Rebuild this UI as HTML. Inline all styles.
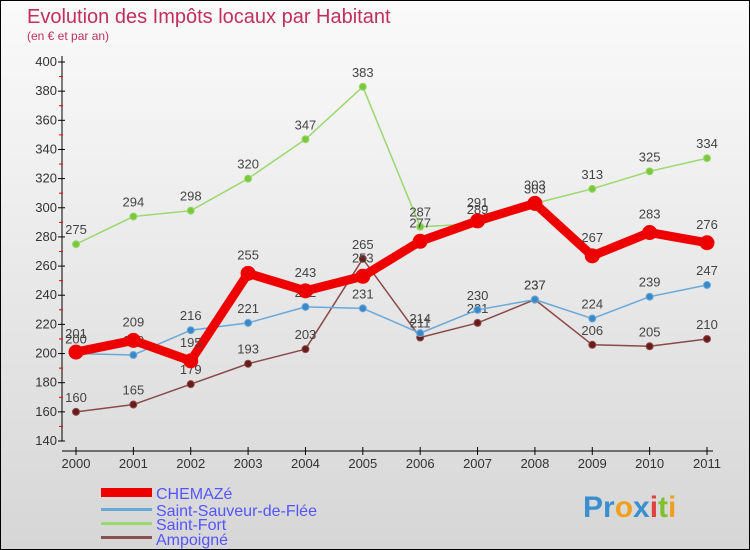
<!DOCTYPE html>
<html><head><meta charset="utf-8"><style>
body{margin:0}
#c{width:748px;height:548px;border:1px solid #000;background:linear-gradient(#fafafa,#f0f0f0 30%,#d6d6d6);position:relative;overflow:hidden;font-family:"Liberation Sans",sans-serif}
</style></head><body>
<div id="c">
<svg width="748" height="548">
<text x="26" y="22" font-size="20" fill="#c0305a">Evolution des Impôts locaux par Habitant</text>
<text x="26" y="39" font-size="12" fill="#c0305a">(en € et par an)</text>
<g id="axes"></g><g id="series"></g>
<g>
<rect x="100" y="487" width="51" height="9" fill="#e00"/>
<text x="155" y="498" font-size="16" fill="#55f">CHEMAZé</text>
<rect x="100" y="507" width="51" height="3" fill="#6aa8d8"/>
<text x="155" y="515" font-size="16" fill="#55f">Saint-Sauveur-de-Flée</text>
<rect x="100" y="521" width="51" height="3" fill="#9ad870"/>
<text x="155" y="529" font-size="16" fill="#55f">Saint-Fort</text>
<rect x="100" y="535" width="51" height="3" fill="#8a5050"/>
<text x="155" y="544" font-size="16" fill="#55f">Ampoigné</text>
</g>
<text x="582" y="516" font-size="30" font-weight="bold"><tspan fill="#3a8fd0">Pr</tspan><tspan fill="#f0a020">o</tspan><tspan fill="#3a8fd0">x</tspan><tspan fill="#e04040">i</tspan><tspan fill="#80c030">t</tspan><tspan fill="#f0a020">i</tspan></text>
</svg></div>
<script>
const years=["2000","2001","2002","2003","2004","2005","2006","2007","2008","2009","2010","2011"];
const chemaze=[201,209,195,255,243,253,277,291,303,267,283,276];
const sauveur=[200,199,216,221,232,231,214,230,237,224,239,247];
const fort=[275,294,298,320,347,383,287,289,303,313,325,334];
const ampoigne=[160,165,179,193,203,265,211,221,237,206,205,210];
const yTicks=[140,160,180,200,220,240,260,280,300,320,340,360,380,400];
const NS="http://www.w3.org/2000/svg";
const X=i=>75+i*(706-75)/11, Y=v=>440-(v-140)*(440-61)/260;
function mk(t,a,p){const e=document.createElementNS(NS,t);for(const k in a)e.setAttribute(k,a[k]);p.appendChild(e);return e;}
const ax=document.getElementById('axes');
let l=mk('line',{x1:61,y1:55,x2:61,y2:440,stroke:'#000'},ax);

l=mk('line',{x1:61,y1:450,x2:712,y2:450,stroke:'#000'},ax);

yTicks.forEach((v,i)=>{mk('line',{x1:57,x2:64,y1:Y(v),y2:Y(v),stroke:'#000'},ax);
 if(i<yTicks.length-1)mk('line',{x1:58,x2:62,y1:Y(v+10),y2:Y(v+10),stroke:'#e00'},ax);
 const t=mk('text',{x:56,y:Y(v)+4,'text-anchor':'end','font-size':13,fill:'#333'},ax);t.textContent=v;
 });
years.forEach((y,i)=>{mk('line',{x1:X(i),x2:X(i),y1:446,y2:454,stroke:'#000'},ax);
 const t=mk('text',{x:X(i),y:467,'text-anchor':'middle','font-size':13,fill:'#333'},ax);t.textContent=y;
 });
const sg=document.getElementById('series');
function draw(name,vals,col,w,r,dot,lab){
 const g=mk('g',{},sg);
 mk('polyline',{points:vals.map((v,i)=>X(i)+','+Y(v)).join(' '),fill:'none',stroke:col,'stroke-width':w,'stroke-linejoin':'round'},g);
 vals.forEach((v,i)=>{const c=mk('circle',{cx:X(i),cy:Y(v),r:r,fill:dot,stroke:col,'stroke-width':1},g);
  
  const t=mk('text',{x:X(i),y:Y(v)+lab,'text-anchor':'middle','font-size':13,fill:'#444'},g);t.textContent=v;
  });
}
draw('ampoigne',ampoigne,'#8a4a4a',1.5,3.5,'#6a1a1a',-10);
draw('saint-fort',fort,'#9ad870',1.5,3.5,'#7cc83c',-10);
draw('saint-sauveur',sauveur,'#6aa8d8',1.5,3.5,'#3a88c8',-10);
draw('chemaze',chemaze,'#e00',9,7,'#e00',-14);
</script>
</body></html>
